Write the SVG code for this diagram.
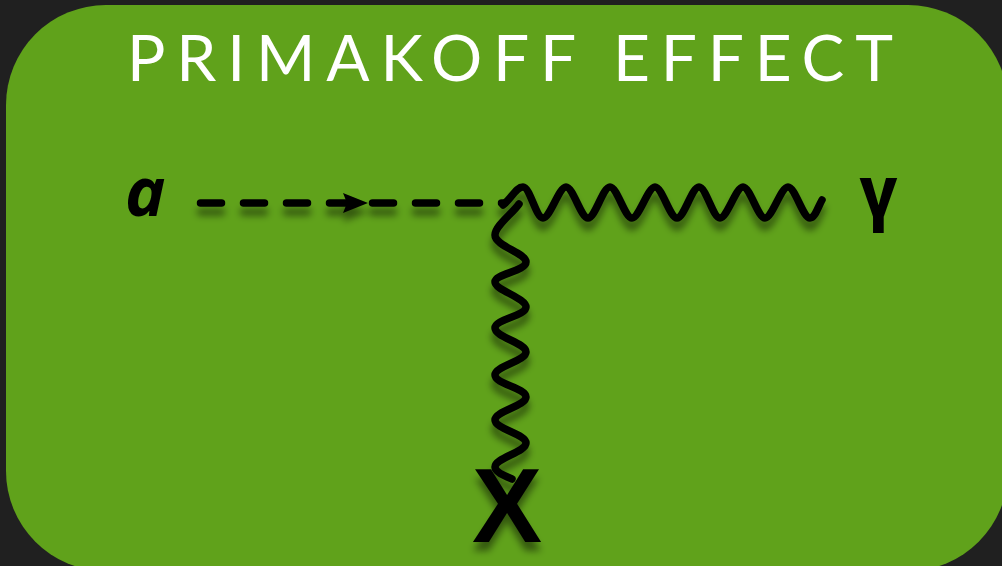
<svg xmlns="http://www.w3.org/2000/svg" width="1002" height="566" viewBox="0 0 1002 566">
  <defs>
    <filter id="shadow" x="-10%" y="-20%" width="120%" height="160%">
      <feDropShadow dx="0" dy="9" stdDeviation="3.5" flood-color="#000" flood-opacity="0.45"/>
    </filter>
  </defs>
  <style>
    .line { fill: none; stroke: #000; stroke-width: 7.5; stroke-linecap: round; stroke-linejoin: round; }
    .dash { stroke-dasharray: 21 22; }
    .label { font-family: "Open Sans", "DejaVu Sans", sans-serif; font-weight: 700; fill: #000; }
    .title { font-family: "Lato", "Open Sans", sans-serif; font-weight: 400; fill: #fff; }
  </style>
  <rect x="0" y="0" width="1002" height="566" fill="#202020"/>
  <rect id="panel" x="6" y="5" width="1002" height="566" rx="100" ry="100" fill="#60a21b"/>
  <text class="title" x="127" y="81" font-size="64" textLength="766" lengthAdjust="spacing">PRIMAKOFF EFFECT</text>

  <g id="connectors" filter="url(#shadow)">
    <path class="line dash" d="M200.5,203 H505"/>
    <polygon points="343,193 368,203 343,213 347,203" fill="#000"/>
    <path class="line" d="M503,205 C512,198 516,187 523,187 C530,187 536,218 543,218 C550,218 559,187 566,187 C573,187 581,218 588,218 C595,218 603,187 610,187 C617,187 625,218 632,218 C639,218 648,187 655,187 C662,187 670,218 677,218 C684,218 692,187 699,187 C706,187 713,218 720,218 C727,218 736,187 743,187 C750,187 758,218 765,218 C772,218 781,187 788,187 C795,187 803,218 810,218 C815,218 818,207 822,200"/>
    <path class="line" d="M519,204 C512,214 495,226 495,235 C495,246 526,253 526,262 C526,271 495,274 495,282 C495,290 526,298 526,307 C526,316 495,319 495,328 C495,337 526,343 526,352 C526,361 495,366 495,375 C495,384 526,388 526,397 C526,406 495,411 495,420 C495,429 526,434 526,443 C526,452 495,458 495,467 C495,472 505,476 512,479"/>
  </g>

  <g id="node-a"><text class="label" x="125" y="216" font-size="68" font-style="italic">a</text></g>
  <g id="node-gamma"><text x="859" y="218" font-size="76" font-family="Roboto, sans-serif" font-weight="700" fill="#000">γ</text></g>
  <g id="node-X" filter="url(#shadow)"><text x="507" y="542" font-size="105" font-family="Liberation Sans, Arial, sans-serif" font-weight="700" text-anchor="middle" fill="#000">X</text></g>
</svg>
